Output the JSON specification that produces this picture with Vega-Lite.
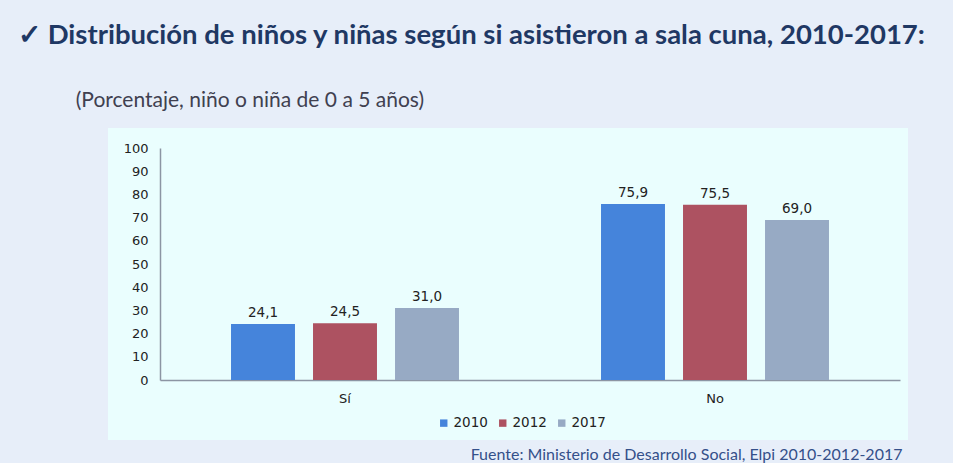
{
  "$schema": "https://vega.github.io/schema/vega-lite/v6.json",
  "width": 800,
  "height": 312,
  "autosize": {"type": "none"},
  "padding": {"left": 108, "top": 128, "right": 45, "bottom": 23},
  "background": "#e7eef9",
  "config": {
    "locale": {"number": {"decimal": ",", "thousands": ".", "grouping": [3], "currency": ["$", ""]}},
    "view": {"fill": "#eafefe", "stroke": null}
  },
  "title": {
    "text": "✓ Distribución de niños y niñas según si asistieron a sala cuna, 2010-2017:",
    "subtitle": "\u200b\u2003\u2003\u2003\u2002(Porcentaje, niño o niña de 0 a 5 años)",
    "anchor": "start",
    "frame": "group",
    "dx": -90,
    "offset": 17,
    "font": "Lato",
    "fontSize": 27.5,
    "fontWeight": "bold",
    "color": "#1f3864",
    "subtitleFont": "Lato",
    "subtitleFontSize": 21,
    "subtitleColor": "#404050",
    "subtitlePadding": 41
  },
  "data": {
    "values": [
      {"cat": "Sí", "year": "2010", "value": 24.1},
      {"cat": "Sí", "year": "2012", "value": 24.5},
      {"cat": "Sí", "year": "2017", "value": 31.0},
      {"cat": "No", "year": "2010", "value": 75.9},
      {"cat": "No", "year": "2012", "value": 75.5},
      {"cat": "No", "year": "2017", "value": 69.0}
    ]
  },
  "encoding": {
    "x": {
      "field": "cat",
      "type": "nominal",
      "sort": ["Sí", "No"],
      "scale": {"range": [52, 792], "paddingInner": 0, "paddingOuter": 0},
      "axis": {
        "offset": -60,
        "ticks": false,
        "labelAngle": 0,
        "labelFont": "DejaVu Sans",
        "labelFontSize": 13,
        "labelColor": "#222222",
        "labelPadding": 12,
        "domainColor": "#8c95a3",
        "domainWidth": 1.5,
        "title": "Fuente: Ministerio de Desarrollo Social, Elpi 2010-2012-2017",
        "titleX": 794,
        "titleY": 79,
        "titleAlign": "right",
        "titleBaseline": "alphabetic",
        "titleFont": "Lato",
        "titleFontSize": 16,
        "titleFontWeight": "normal",
        "titleColor": "#34508a"
      }
    },
    "xOffset": {
      "field": "year",
      "type": "nominal",
      "scale": {"paddingInner": 0.22, "paddingOuter": 0.866}
    },
    "y": {
      "field": "value",
      "type": "quantitative",
      "scale": {"domain": [0, 100], "range": [252, 20]},
      "axis": {
        "offset": -52,
        "values": [0, 10, 20, 30, 40, 50, 60, 70, 80, 90, 100],
        "format": "d",
        "ticks": false,
        "grid": false,
        "labelPadding": 12,
        "labelFont": "DejaVu Sans",
        "labelFontSize": 13,
        "labelColor": "#222222",
        "domainColor": "#8c95a3",
        "domainWidth": 1.5,
        "title": null
      }
    }
  },
  "layer": [
    {
      "mark": {"type": "bar"},
      "encoding": {
        "color": {
          "field": "year",
          "type": "nominal",
          "scale": {"domain": ["2010", "2012", "2017"], "range": ["#4584db", "#ad5261", "#97aac4"]},
          "legend": {
            "title": null,
            "orient": "none",
            "legendX": 329,
            "legendY": 288,
            "direction": "horizontal",
            "symbolType": "square",
            "symbolSize": 55,
            "symbolStrokeWidth": 0,
            "labelFont": "DejaVu Sans",
            "labelFontSize": 13.5,
            "labelColor": "#222222",
            "labelOffset": 3,
            "columnPadding": 8
          }
        }
      }
    },
    {
      "mark": {"type": "text", "baseline": "bottom", "dy": -4, "font": "DejaVu Sans", "fontSize": 13.5, "color": "#222222"},
      "encoding": {
        "text": {"field": "value", "type": "quantitative", "format": ".1f"}
      }
    }
  ]
}
